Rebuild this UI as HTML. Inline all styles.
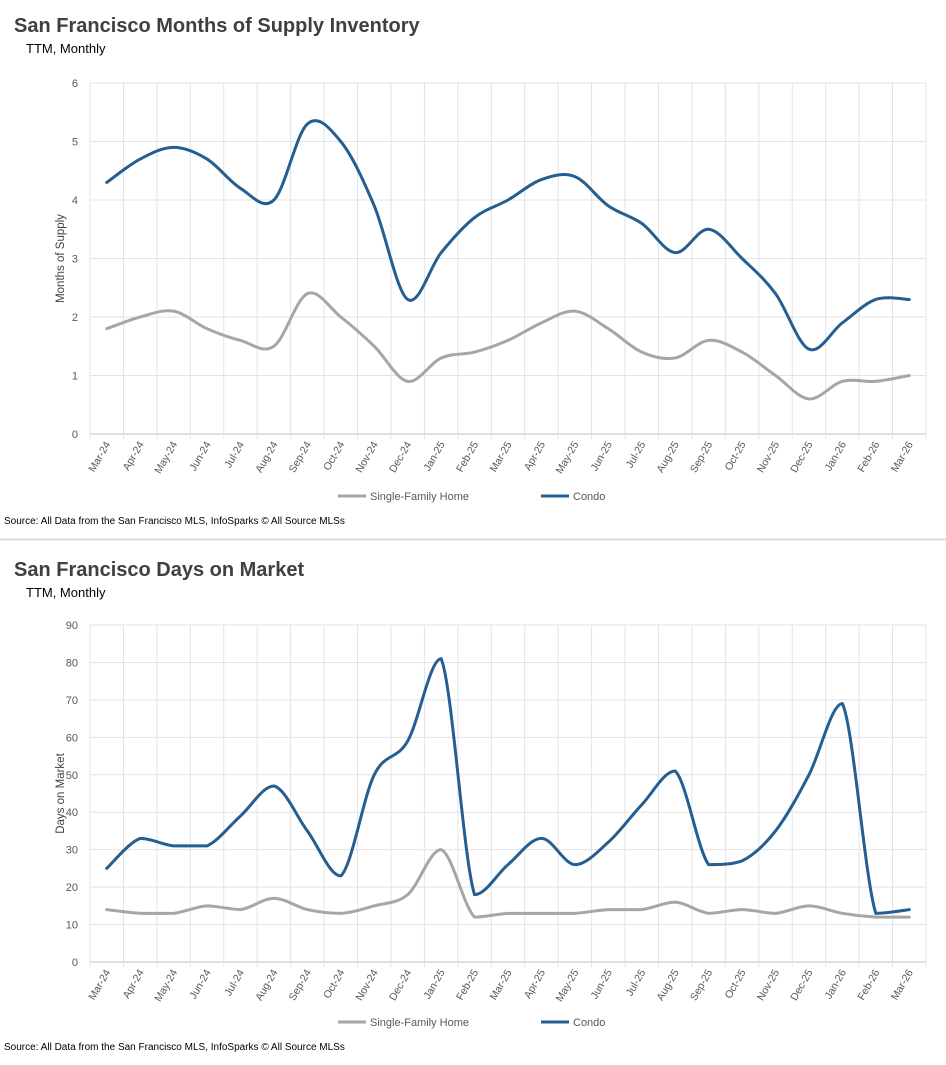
<!DOCTYPE html>
<html><head><meta charset="utf-8"><style>
body{margin:0;background:#fff;width:946px;height:1060px;overflow:hidden;font-family:"Liberation Sans",sans-serif}
svg text{font-family:"Liberation Sans",sans-serif}
</style></head><body>
<svg id="svg" width="946" height="1060">
<text x="14" y="32" font-size="20" font-weight="bold" fill="#404040">San Francisco Months of Supply Inventory</text>
<text x="26" y="53" font-size="13" fill="#000">TTM, Monthly</text>
<text x="4" y="524" font-size="10" fill="#000">Source: All Data from the San Francisco MLS, InfoSparks © All Source MLSs</text>
<line x1="0" y1="539.5" x2="946" y2="539.5" stroke="#d9d9d9" stroke-width="2"/>
<text x="14" y="576" font-size="20" font-weight="bold" fill="#404040">San Francisco Days on Market</text>
<text x="26" y="597" font-size="13" fill="#000">TTM, Monthly</text>
<text x="4" y="1050" font-size="10" fill="#000">Source: All Data from the San Francisco MLS, InfoSparks © All Source MLSs</text>
<g id="c1"></g><g id="c2"></g>
</svg>
<script>
const months=["Mar-24","Apr-24","May-24","Jun-24","Jul-24","Aug-24","Sep-24","Oct-24","Nov-24","Dec-24","Jan-25","Feb-25","Mar-25","Apr-25","May-25","Jun-25","Jul-25","Aug-25","Sep-25","Oct-25","Nov-25","Dec-25","Jan-26","Feb-26","Mar-26"];
const supplySFH=[1.8,2.0,2.1,1.8,1.6,1.5,2.4,2.0,1.5,0.9,1.3,1.4,1.6,1.9,2.1,1.8,1.4,1.3,1.6,1.4,1.0,0.6,0.9,0.9,1.0];
const supplyCondo=[4.3,4.7,4.9,4.7,4.2,4.0,5.3,5.0,3.9,2.3,3.1,3.7,4.0,4.35,4.4,3.9,3.6,3.1,3.5,3.0,2.4,1.45,1.9,2.3,2.3];
const supplyTicks=[0,1,2,3,4,5,6];
const domSFH=[14,13,13,15,14,17,14,13,15,18,30,12,13,13,13,14,14,16,13,14,13,15,13,12,12];
const domCondo=[25,33,31,31,39,47,35,23,50,59,81,18,26,33,26,32,42,51,26,27,35,50,69,13,14];
const domTicks=[0,10,20,30,40,50,60,70,80,90];
const NS="http://www.w3.org/2000/svg";
function mk(p,t,a){const e=document.createElementNS(NS,t);for(const k in a)e.setAttribute(k,a[k]);p.appendChild(e);return e;}
function smooth(pts,clamp){let d="M"+pts[0][0]+","+pts[0][1];for(let i=0;i<pts.length-1;i++){const p0=pts[Math.max(i-1,0)],p1=pts[i],p2=pts[i+1],p3=pts[Math.min(i+2,pts.length-1)];let c1=[p1[0]+(p2[0]-p0[0])/6,p1[1]+(p2[1]-p0[1])/6],c2=[p2[0]-(p3[0]-p1[0])/6,p2[1]-(p3[1]-p1[1])/6];
 if(clamp){const lo=Math.min(p1[1],p2[1]),hi=Math.max(p1[1],p2[1]);c1[1]=Math.min(hi,Math.max(lo,c1[1]));c2[1]=Math.min(hi,Math.max(lo,c2[1]));}
 d+=`C${c1[0]},${c1[1]} ${c2[0]},${c2[1]} ${p2[0]},${p2[1]}`;}return d;}
function chart(gid,top,bottom,ticks,sfh,condo,ytitle,legY,clamp){
 const g=document.getElementById(gid);const L=90,R=926,n=months.length,bw=(R-L)/n;const max=ticks[ticks.length-1];
 const x=i=>L+bw*(i+0.5);const y=v=>bottom-(v/max)*(bottom-top);
 ticks.forEach(t=>{const l=mk(g,'line',{x1:L,x2:R,y1:y(t),y2:y(t),stroke:t===0?'#bfbfbf':'#e3e3e3'});
  
  
  const tx=mk(g,'text',{x:78,y:y(t)+4,'font-size':11,'text-anchor':'end',fill:'#595959'});tx.textContent=t;
  
  });
 for(let i=0;i<=n;i++){const l=mk(g,'line',{x1:L+bw*i,x2:L+bw*i,y1:top,y2:bottom+5,stroke:'#e3e3e3'});
  
  }
 months.forEach((m,i)=>{const t=mk(g,'text',{'font-size':10.5,fill:'#595959','text-anchor':'end',transform:`translate(${x(i)+4},${bottom+10}) rotate(-60)`});t.textContent=m;
  
  });
 const yt=mk(g,'text',{'font-size':11.5,fill:'#404040','text-anchor':'middle',transform:`translate(64,${(top+bottom)/2}) rotate(-90)`});yt.textContent=ytitle;
 
 
 [[sfh,'#a6a6a6','sfh-line'],[condo,'#255e91','condo-line']].forEach(([arr,c,nm])=>{const p=mk(g,'path',{d:smooth(arr.map((v,i)=>[x(i),y(v)]),clamp),fill:'none',stroke:c,'stroke-width':3,'stroke-linecap':'round'});
  
  });
 [[338,'#a6a6a6','Single-Family Home','legend-sfh'],[541,'#255e91','Condo','legend-condo']].forEach(([lx,c,lab,nm])=>{const gg=mk(g,'g',{});
  
  
  mk(gg,'line',{x1:lx,x2:lx+28,y1:legY,y2:legY,stroke:c,'stroke-width':3});const t=mk(gg,'text',{x:lx+32,y:legY+4,'font-size':11,fill:'#595959'});t.textContent=lab;});
}
chart('c1',83,434,supplyTicks,supplySFH,supplyCondo,'Months of Supply',496,false);
chart('c2',625,962,domTicks,domSFH,domCondo,'Days on Market',1022,true);
</script>
</body></html>
